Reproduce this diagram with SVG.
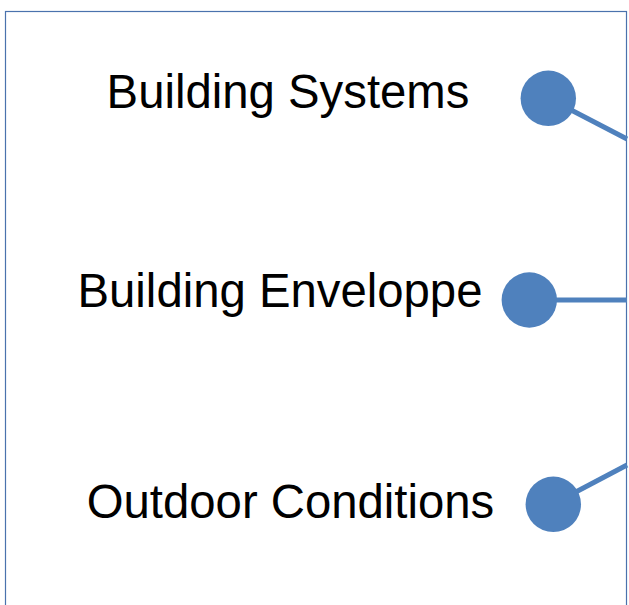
<svg xmlns="http://www.w3.org/2000/svg" width="629" height="605" viewBox="0 0 629 605">
<style>
.lbl{font-family:"Liberation Sans",Arial,sans-serif;font-size:47.3px;fill:#000;text-anchor:middle}
.dot{fill:#4F81BD}
.con{stroke:#4F81BD;stroke-width:5;fill:none}
</style>
<rect x="0" y="0" width="629" height="605" fill="#fff"/>
<rect x="5.5" y="11.5" width="621" height="700" fill="none" stroke="#4a72ad" stroke-width="1.2"/>
<g id="connectors">
<line class="con" x1="548" y1="98" x2="627" y2="139"/>
<line class="con" x1="529" y1="300" x2="627" y2="300"/>
<line class="con" x1="553" y1="504" x2="627" y2="465"/>
</g>
<g id="node-systems">
<text class="lbl" x="288" y="108">Building Systems</text>
<circle class="dot" cx="548.3" cy="98.3" r="27.7"/>
</g>
<g id="node-envelope">
<text class="lbl" x="280" y="307">Building Enveloppe</text>
<circle class="dot" cx="529.3" cy="300" r="27.7"/>
</g>
<g id="node-outdoor">
<text class="lbl" x="290.5" y="518">Outdoor Conditions</text>
<circle class="dot" cx="553.3" cy="504.3" r="27.7"/>
</g>
</svg>
